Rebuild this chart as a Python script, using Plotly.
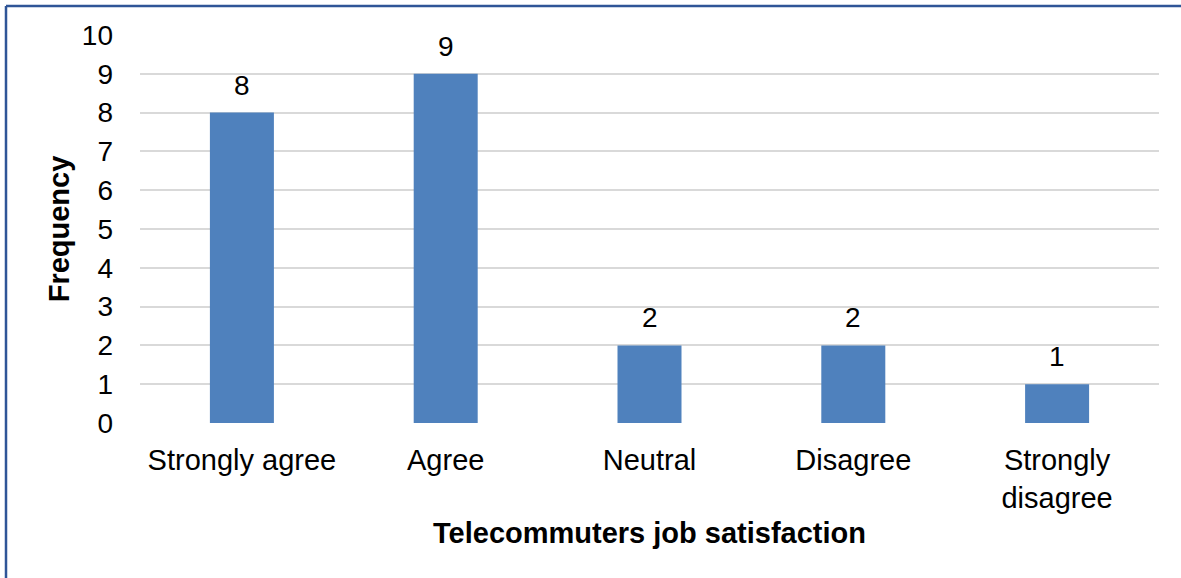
import plotly.graph_objects as go

categories = ["Strongly agree", "Agree", "Neutral", "Disagree", "Strongly<br>disagree"]
frequency = [8, 9, 2, 2, 1]
y_ticks = list(range(0, 11))

W, H = 1181, 578
ML, MR, MT, MB = 140, 22, 35, 155
plot_w = W - ML - MR
plot_h = H - MT - MB

FONT = "Liberation Sans, Arial, sans-serif"

fig = go.Figure(
    go.Bar(
        x=categories,
        y=frequency,
        marker=dict(color="#4F81BD", line=dict(width=0)),
    )
)

# Value labels above each bar
for cat, val in zip(categories, frequency):
    fig.add_annotation(
        x=cat, y=val, text=str(val), showarrow=False,
        yanchor="bottom", yshift=10,
        font=dict(family=FONT, size=28, color="#000000"),
    )

# Frame on the left and top edges of the chart area
left_x = (6 - ML) / plot_w
top_y = (H - MB - 6) / plot_h
fig.add_shape(type="line", xref="paper", yref="paper",
              x0=left_x, x1=left_x, y0=-1, y1=top_y,
              line=dict(color="#2F5597", width=2.5))
fig.add_shape(type="line", xref="paper", yref="paper",
              x0=left_x, x1=1.2, y0=top_y, y1=top_y,
              line=dict(color="#2F5597", width=2.5))

fig.update_layout(
    width=W,
    height=H,
    margin=dict(l=ML, r=MR, t=MT, b=MB, pad=0),
    paper_bgcolor="#FFFFFF",
    plot_bgcolor="#FFFFFF",
    bargap=0.686,
    showlegend=False,
    font=dict(family=FONT, color="#000000"),
    xaxis=dict(
        title=dict(text="<b>Telecommuters job satisfaction</b>",
                   font=dict(family=FONT, size=29), standoff=9),
        tickfont=dict(family=FONT, size=29),
        showgrid=False,
        showline=False,
        zeroline=False,
        ticks="",
        ticklabelstandoff=17,
    ),
    yaxis=dict(
        title=dict(text="<b>Frequency</b>", font=dict(family=FONT, size=29), standoff=3),
        range=[0, 10],
        tickvals=y_ticks,
        tickfont=dict(family=FONT, size=28),
        showgrid=True,
        gridcolor="#D9D9D9",
        gridwidth=1.5,
        zeroline=False,
        showline=False,
        ticks="",
        ticklabelstandoff=26,
    ),
)

fig.write_html("out.html")
